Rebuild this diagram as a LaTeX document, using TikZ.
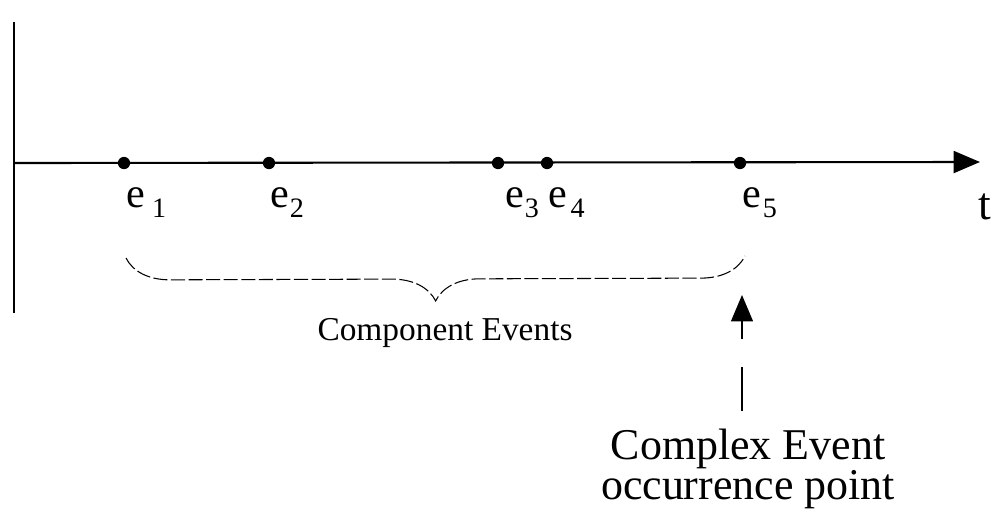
\documentclass[tikz,border=0pt]{standalone}
\usepackage{fontspec}
\setmainfont{Liberation Serif}
\usetikzlibrary{arrows.meta,decorations.pathreplacing}
\tikzset{
  ev/.style={circle,fill=black,inner sep=0pt,minimum size=7pt},
  elbl/.style={anchor=base west,inner sep=0pt,font=\fontsize{24}{28}\selectfont},
  axis/.style={line width=1.2pt,-{Triangle[length=15pt,width=12.5pt]}},
  uparr/.style={line width=0.7pt,-{Triangle[length=15pt,width=12.5pt]}},
  brc/.style={decorate,decoration={brace,mirror,amplitude=25pt},line width=0.6pt,dash pattern=on 8pt off 2pt},
  txt/.style={font=\fontsize{25}{21}\selectfont,align=center,inner sep=0pt}
}
% e with a lowered index, #1 = gap
\newcommand{\esub}[2]{e\kern#1\raisebox{-5.7pt}{\fontsize{16}{16}\selectfont #2}}

\begin{document}
\begin{tikzpicture}[x=0.02cm,y=-0.02cm]
  \useasboundingbox (0,0) rectangle (991,511);
  % axes
  \coordinate (vtop) at (14,22);
  \coordinate (vbot) at (14,313);
  \coordinate (orig) at (14,163);
  \coordinate (tend) at (980,162);
  \draw[line width=0.8pt] (vtop) -- (vbot);
  \draw[axis] (orig) -- (tend);
  \node[anchor=base west,inner sep=0pt,font=\fontsize{26}{28}\selectfont] (tlbl) at (978,219) {t};
  % events
  \foreach \n/\x in {1/124,2/269,3/498,4/547,5/740}
    \node[ev] (e\n) at (\x,163) {};
  \node[elbl] (l1) at (126,207) {\esub{4pt}{1}};
  \node[elbl] (l2) at (270,207) {\esub{0.5pt}{2}};
  \node[elbl] (l3) at (505,207) {\esub{0.5pt}{3}};
  \node[elbl] (l4) at (548,207) {\esub{2pt}{4}};
  \node[elbl] (l5) at (742,207) {\esub{1pt}{5}};
  % brace
  \coordinate (brL) at (126,258);
  \coordinate (brR) at (745,256);
  \draw[brc] (brL) -- (brR);
  \node[font=\fontsize{19}{22}\selectfont,inner sep=0pt] (comp) at (445,333) {Component Events};
  % complex event
  \coordinate (atail) at (742,339);
  \coordinate (atip) at (742,295);
  \draw[uparr] (atail) -- (atip);
  \node[txt] (cplx) at (748,469) {Complex Event\\occurrence point};
  \coordinate (stub) at (742,367);
  \draw[line width=0.7pt] (stub) -- ([yshift=10pt]stub |- cplx.north);
\end{tikzpicture}
\end{document}
